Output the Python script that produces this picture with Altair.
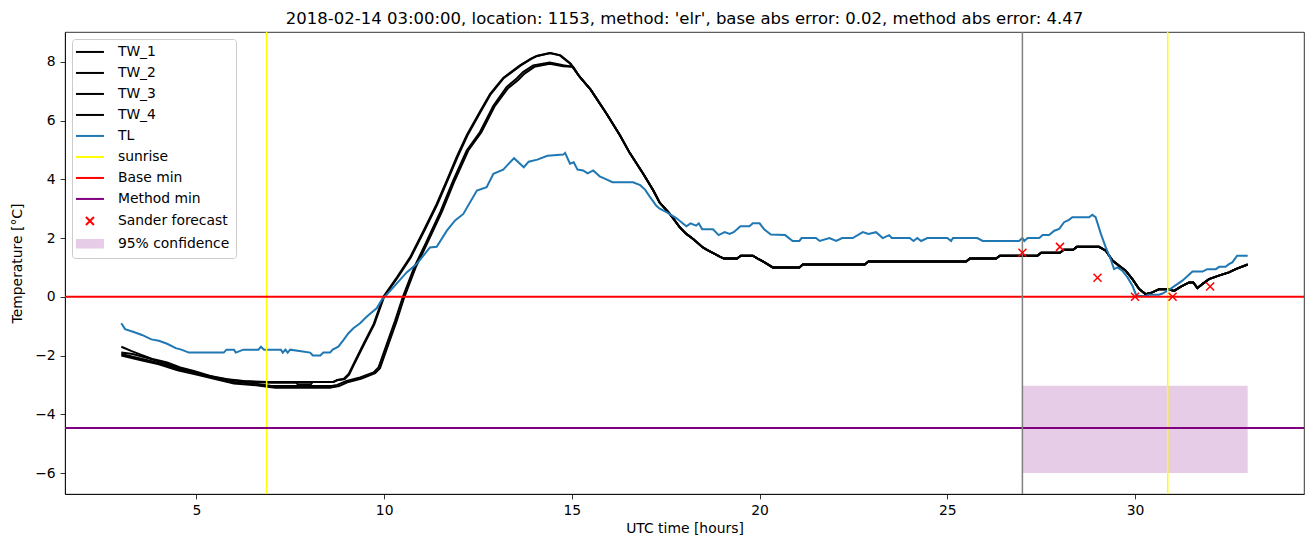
import altair as alt
import pandas as pd

FONT = "DejaVu Sans"
TITLE = "2018-02-14 03:00:00, location: 1153, method: 'elr', base abs error: 0.02, method abs error: 4.47"

# ---- data: [UTC hour, temperature] ----
TW1_HEAD = [[3.0, -1.7], [3.26, -1.84], [3.5, -1.96], [3.86, -2.13], [4.22, -2.24], [4.57, -2.41],
            [4.93, -2.53], [5.37, -2.7], [5.82, -2.81], [6.26, -2.87], [6.9, -2.9], [7.6, -2.9],
            [8.1, -2.9], [8.65, -2.9], [8.75, -2.83], [8.92, -2.8], [9.05, -2.64], [9.18, -2.3],
            [9.45, -1.61], [9.72, -0.93], [9.98, 0.0], [10.34, 0.66], [10.69, 1.34], [11.05, 2.25],
            [11.4, 3.16], [11.67, 3.96], [11.93, 4.75], [12.2, 5.5], [12.55, 6.3], [12.82, 6.9],
            [13.17, 7.45], [13.62, 7.88], [13.9, 8.1], [14.06, 8.2], [14.41, 8.3], [14.68, 8.22],
            [14.95, 7.94]]
TW2_HEAD = [[3.0, -1.9], [3.3, -1.95], [3.6, -2.05], [4.0, -2.2], [4.5, -2.4], [5.0, -2.6],
            [5.5, -2.75], [6.0, -2.85], [6.5, -2.9], [7.0, -2.93], [7.65, -2.93], [7.7, -2.98],
            [8.05, -2.98], [8.1, -2.9], [8.65, -2.9], [8.78, -2.83], [8.95, -2.8], [9.07, -2.64],
            [9.2, -2.3], [9.47, -1.61], [9.74, -0.93], [10.0, 0.0], [10.36, 0.66], [10.71, 1.34],
            [11.07, 2.25], [11.42, 3.16], [11.69, 3.96], [11.95, 4.75], [12.22, 5.5], [12.57, 6.3],
            [12.84, 6.9], [13.19, 7.45], [13.64, 7.88], [13.92, 8.1], [14.08, 8.2], [14.43, 8.3],
            [14.7, 8.22], [14.97, 7.94]]
TW3_HEAD = [[3.0, -1.95], [3.5, -2.1], [4.0, -2.25], [4.5, -2.45], [5.0, -2.6], [5.5, -2.75],
            [6.0, -2.9], [6.5, -2.95], [7.0, -3.04], [8.6, -3.04], [8.75, -3.0], [9.0, -2.87],
            [9.36, -2.75], [9.72, -2.58], [9.85, -2.41], [10.07, -1.61], [10.29, -0.82], [10.5, 0.0],
            [10.8, 1.0], [11.1, 1.8], [11.5, 2.9], [11.84, 3.96], [12.2, 4.98], [12.55, 5.6],
            [12.91, 6.5], [13.26, 7.14], [13.53, 7.43], [13.7, 7.65], [13.97, 7.88], [14.41, 7.98],
            [14.77, 7.88], [15.03, 7.83]]
TW4_HEAD = [[3.0, -2.0], [3.5, -2.15], [4.0, -2.3], [4.5, -2.5], [5.0, -2.65], [5.5, -2.8],
            [6.0, -2.95], [6.5, -3.0], [7.1, -3.1], [8.55, -3.1], [8.8, -3.04], [9.05, -2.9],
            [9.4, -2.78], [9.76, -2.6], [9.89, -2.43], [10.11, -1.63], [10.33, -0.84], [10.54, 0.0],
            [10.84, 1.0], [11.14, 1.8], [11.54, 2.9], [11.88, 3.96], [12.24, 4.98], [12.59, 5.6],
            [12.95, 6.5], [13.3, 7.1], [13.57, 7.38], [13.74, 7.6], [14.0, 7.83], [14.41, 7.93],
            [14.77, 7.85], [15.03, 7.83]]
TW_TAIL = [[15.2, 7.5], [15.5, 7.05], [15.92, 6.24], [16.28, 5.5], [16.54, 4.9], [16.9, 4.19],
           [17.17, 3.62], [17.34, 3.2], [17.61, 2.82], [17.87, 2.37], [18.05, 2.14], [18.23, 1.97],
           [18.49, 1.68], [18.6, 1.6], [18.94, 1.37], [19.05, 1.3], [19.4, 1.3], [19.5, 1.4],
           [19.82, 1.4], [19.95, 1.3], [20.1, 1.2], [20.35, 1.0], [21.06, 1.0], [21.15, 1.1],
           [22.8, 1.1], [22.9, 1.2], [25.5, 1.2], [25.6, 1.3], [26.3, 1.3], [26.4, 1.4],
           [27.4, 1.4], [27.5, 1.5], [28.0, 1.5], [28.1, 1.6], [28.35, 1.6], [28.45, 1.7],
           [29.04, 1.7], [29.22, 1.57], [29.4, 1.23], [29.57, 1.06], [29.75, 0.89], [29.93, 0.6],
           [30.11, 0.26], [30.28, 0.09], [30.46, 0.15], [30.64, 0.26], [30.86, 0.26], [31.04, 0.2],
           [31.21, 0.34], [31.44, 0.49], [31.55, 0.49], [31.66, 0.3], [31.79, 0.43], [31.97, 0.6],
           [32.23, 0.72], [32.5, 0.83], [32.68, 0.94], [33.0, 1.1]]
TL = [[3.0, -0.9], [3.1, -1.1], [3.33, -1.2], [3.55, -1.3], [3.8, -1.45], [4.0, -1.5], [4.22, -1.6],
      [4.45, -1.75], [4.6, -1.8], [4.8, -1.9], [5.73, -1.9], [5.8, -1.8], [6.0, -1.8], [6.05, -1.9],
      [6.25, -1.8], [6.65, -1.8], [6.72, -1.7], [6.8, -1.8], [7.25, -1.8], [7.3, -1.9], [7.37, -1.8],
      [7.43, -1.9], [7.5, -1.8], [8.03, -1.9], [8.1, -2.0], [8.3, -2.0], [8.38, -1.9], [8.56, -1.9],
      [8.63, -1.8], [8.78, -1.7], [8.92, -1.47], [9.05, -1.24], [9.18, -1.07], [9.36, -0.9],
      [9.54, -0.67], [9.8, -0.39], [9.94, -0.1], [10.16, 0.2], [10.6, 0.83], [10.87, 1.12],
      [11.22, 1.68], [11.4, 1.7], [11.67, 2.25], [11.89, 2.6], [12.11, 2.82], [12.47, 3.62],
      [12.73, 3.73], [12.91, 4.19], [13.17, 4.33], [13.46, 4.72], [13.72, 4.41], [13.85, 4.6],
      [14.08, 4.67], [14.35, 4.8], [14.77, 4.84], [14.82, 4.9], [14.95, 4.53], [15.05, 4.58],
      [15.15, 4.33], [15.3, 4.3], [15.42, 4.2], [15.57, 4.3], [15.74, 4.1], [15.92, 4.0],
      [16.08, 3.9], [16.63, 3.9], [16.82, 3.8], [16.95, 3.65], [17.07, 3.42], [17.25, 3.1],
      [17.34, 3.0], [17.52, 2.88], [17.78, 2.68], [18.05, 2.4], [18.16, 2.5], [18.31, 2.42],
      [18.38, 2.5], [18.47, 2.3], [18.76, 2.3], [18.91, 2.1], [19.07, 2.2], [19.2, 2.14],
      [19.31, 2.2], [19.49, 2.4], [19.73, 2.4], [19.82, 2.5], [20.0, 2.5], [20.12, 2.3],
      [20.3, 2.12], [20.68, 2.1], [20.88, 1.9], [21.06, 1.9], [21.12, 2.0], [21.5, 2.0],
      [21.6, 1.9], [21.86, 2.0], [22.04, 1.9], [22.2, 2.0], [22.48, 2.0], [22.75, 2.2],
      [22.9, 2.14], [23.1, 2.2], [23.28, 2.0], [23.45, 2.1], [23.52, 2.0], [24.0, 2.0],
      [24.1, 1.9], [24.2, 2.0], [24.3, 1.9], [24.47, 2.0], [25.0, 2.0], [25.1, 1.9], [25.15, 2.0],
      [25.8, 2.0], [25.94, 1.9], [26.91, 1.9], [27.0, 2.0], [27.05, 1.9], [27.14, 2.0],
      [27.45, 2.0], [27.54, 2.1], [27.71, 2.1], [27.85, 2.25], [27.98, 2.31], [28.11, 2.54],
      [28.24, 2.62], [28.33, 2.71], [28.78, 2.71], [28.86, 2.79], [28.95, 2.71], [29.09, 2.14],
      [29.22, 1.68], [29.35, 1.29], [29.44, 0.94], [29.53, 1.0], [29.66, 0.89], [29.8, 0.66],
      [29.93, 0.38], [30.02, 0.09], [30.06, 0.03], [30.28, 0.03], [30.37, 0.07], [30.64, 0.07],
      [30.73, 0.11], [30.9, 0.23], [31.0, 0.32], [31.26, 0.55], [31.53, 0.86], [31.8, 0.86],
      [31.92, 0.94], [32.15, 0.94], [32.24, 1.02], [32.41, 1.02], [32.5, 1.11], [32.59, 1.17],
      [32.72, 1.4], [33.0, 1.4]]

SUNRISE = [6.87, 30.87]
FORECAST_TIME = [27.0]
BASE_MIN = [0.0]
METHOD_MIN = [-4.47]
SANDER_T = [27, 28, 29, 30, 31, 32]
SANDER_V = [1.5, 1.7, 0.65, 0.0, 0.0, 0.35]
CONF_START, CONF_END = 27.0, 33.0
CONF_LOW, CONF_HIGH = -6.0, -3.03

X_TICKS = [5, 10, 15, 20, 25, 30]
Y_TICKS = [-6, -4, -2, 0, 2, 4, 6, 8]

LEGEND_LABELS = ["TW_1", "TW_2", "TW_3", "TW_4", "TL", "sunrise", "Base min", "Method min",
                 "Sander forecast", "95% confidence"]
LEGEND_COLORS = ["black", "black", "black", "black", "#1f77b4", "yellow", "red", "#800080",
                 "red", "#e6cce6"]
LINE_SYM = "M-2.8,0H2.8"
X_SYM = "M-0.8,-0.8L0.8,0.8M-0.8,0.8L0.8,-0.8"
PATCH_SYM = ("M-2.8,-0.8H2.8M-2.8,-0.5H2.8M-2.8,-0.2H2.8M-2.8,0.1H2.8"
             "M-2.8,0.4H2.8M-2.8,0.7H2.8")
LEGEND_SHAPES = [LINE_SYM] * 8 + [X_SYM, PATCH_SYM]
MARKER_X = "M-1,-1L1,1M-1,1L1,-1"


def frame(points, name):
    return pd.DataFrame({"t": [p[0] for p in points], "v": [p[1] for p in points], "series": name})


tw_df = pd.concat([
    frame(TW1_HEAD + TW_TAIL, "TW_1"),
    frame(TW2_HEAD + TW_TAIL, "TW_2"),
    frame(TW3_HEAD + TW_TAIL, "TW_3"),
    frame(TW4_HEAD + TW_TAIL, "TW_4"),
], ignore_index=True)
tl_df = frame(TL, "TL")

x_scale = alt.Scale(domain=[1.5, 34.5], nice=False, zero=False)
y_scale = alt.Scale(domain=[-6.715, 9.015], nice=False, zero=False)
x_axis = alt.Axis(values=X_TICKS, format="d", title="UTC time [hours]", titlePadding=4)
y_axis = alt.Axis(values=Y_TICKS, format="d", title="Temperature [°C]",
                  titleX=-41, titleY=231, titleAngle=270)


def X(field):
    return alt.X(field, type="quantitative", scale=x_scale, axis=x_axis)


def Y(field):
    return alt.Y(field, type="quantitative", scale=y_scale, axis=y_axis)


conf = alt.Chart(pd.DataFrame({"t0": [CONF_START], "t1": [CONF_END],
                               "lo": [CONF_LOW], "hi": [CONF_HIGH]})).mark_rect(
    color="#800080", opacity=0.2).encode(x=X("t0"), x2="t1", y=Y("lo"), y2="hi")

tw_lines = alt.Chart(tw_df).mark_line(color="black", strokeWidth=2).encode(
    x=X("t"), y=Y("v"), detail="series:N")
tl_line = alt.Chart(tl_df).mark_line(color="#1f77b4", strokeWidth=2).encode(x=X("t"), y=Y("v"))

sunrise = alt.Chart(pd.DataFrame({"t": SUNRISE})).mark_rule(color="yellow", strokeWidth=1.5).encode(x=X("t"))
base = alt.Chart(pd.DataFrame({"v": BASE_MIN})).mark_rule(color="red", strokeWidth=2).encode(y=Y("v"))
method = alt.Chart(pd.DataFrame({"v": METHOD_MIN})).mark_rule(color="#800080", strokeWidth=2).encode(y=Y("v"))
fc_line = alt.Chart(pd.DataFrame({"t": FORECAST_TIME})).mark_rule(color="gray", strokeWidth=1.5).encode(x=X("t"))

sander = alt.Chart(pd.DataFrame({"t": SANDER_T, "v": SANDER_V})).mark_point(
    shape=MARKER_X, color="red", size=64, strokeWidth=1.5, filled=False, opacity=1).encode(
    x=X("t"), y=Y("v"))

legend = alt.Legend(title=None, orient="top-left", offset=7, symbolSize=100, symbolStrokeWidth=2,
                    symbolOpacity=1, symbolOffset=5, labelOffset=21, labelFont=FONT,
                    labelFontSize=13.9, labelColor="black", labelLimit=400, rowPadding=6,
                    padding=6, strokeColor="#cccccc", fillColor="rgba(255,255,255,0.8)",
                    cornerRadius=3)
legend_layer = alt.Chart(pd.DataFrame({"series": LEGEND_LABELS})).mark_point(
    opacity=0, filled=False).encode(
    x=alt.value(0), y=alt.value(0),
    color=alt.Color("series:N", scale=alt.Scale(domain=LEGEND_LABELS, range=LEGEND_COLORS), legend=legend),
    shape=alt.Shape("series:N", scale=alt.Scale(domain=LEGEND_LABELS, range=LEGEND_SHAPES), legend=legend),
)

chart = alt.layer(conf, tw_lines, tl_line, sunrise, base, method, fc_line, sander, legend_layer).properties(
    width=1239, height=462,
    title=alt.TitleParams(TITLE, font=FONT, fontSize=16.5, fontWeight="normal", color="black",
                          anchor="middle", offset=2),
    padding={"left": 57, "top": 24, "right": 1, "bottom": 45},
    autosize=alt.AutoSizeParams(type="none"),
).configure_view(stroke="black", strokeWidth=0.8).configure_axis(
    domainColor="black", domainWidth=0.8, tickColor="black", tickWidth=0.8, tickSize=4.9,
    labelFont=FONT, labelFontSize=13.9, labelColor="black", labelPadding=4.9,
    titleFont=FONT, titleFontSize=13.9, titleFontWeight="normal", titleColor="black", grid=False)

chart.save("out.html", embed_options={"renderer": "svg", "actions": False})
